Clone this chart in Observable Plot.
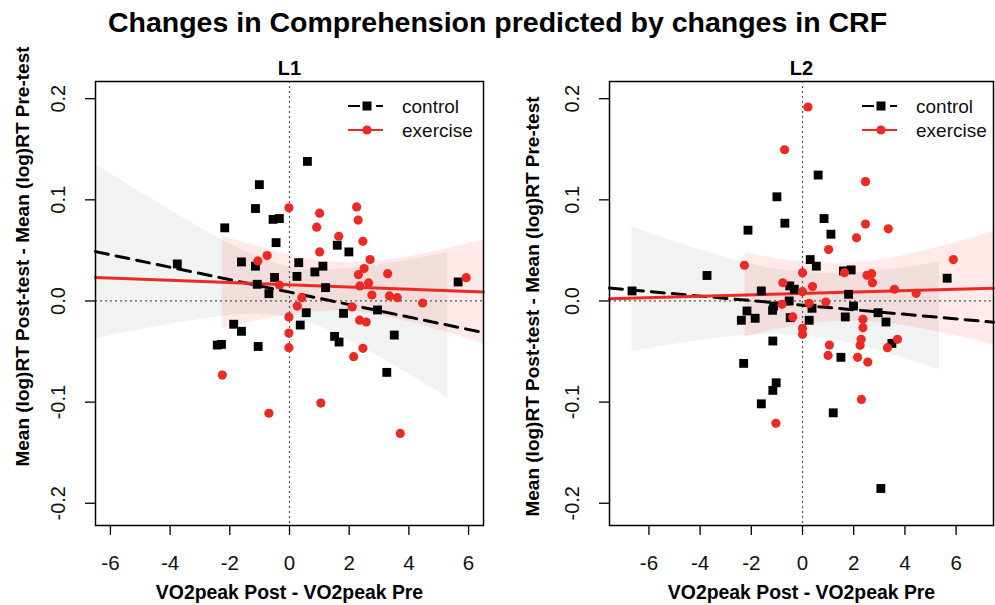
<!DOCTYPE html>
<html><head><meta charset="utf-8">
<script src="https://cdn.jsdelivr.net/npm/d3@7"></script>
<script src="https://cdn.jsdelivr.net/npm/@observablehq/plot@0.6"></script>
<style>
body{margin:0;background:#fff;font-family:"Liberation Sans",Arial,sans-serif;}
#wrap{width:995px;height:605px;position:relative;overflow:hidden;background:#fff}
#title{height:45px;line-height:44px;text-align:center;font-weight:bold;font-size:28.5px;color:#000;white-space:nowrap}
#row{display:flex}
</style></head><body>
<div id="wrap"><div id="title">Changes in Comprehension predicted by changes in CRF</div><div id="row"></div></div>
<script>
const chartTitle = "Changes in Comprehension predicted by changes in CRF";
const panelNames = ["L1", "L2"];
const seriesNames = ["control", "exercise"];
const xTitle = "VO2peak Post - VO2peak Pre";
const yTitle = "Mean (log)RT Post-test - Mean (log)RT Pre-test";
const xTicks = [-6, -4, -2, 0, 2, 4, 6];
const xTickLabels = ["-6", "-4", "-2", "0", "2", "4", "6"];
const yTicks = [-0.2, -0.1, 0, 0.1, 0.2];
const yTickLabels = ["-0.2", "-0.1", "0.0", "0.1", "0.2"];

// L1 data
const l1CtrlX = [-3.76,-2.17,-2.42,-2.28,-1.87,-1.61,-1.61,-1.14,-1.01,-1.14,-1.05,-1.08,-0.69,-0.50,-0.55,-0.34,-0.45,0.60,0.25,0.31,0.85,1.12,1.21,1.60,1.99,0.56,0.36,1.81,2.95,1.51,1.66,3.51,3.26,5.65];
const l1CtrlY = [0.0366,0.0723,-0.0436,-0.0429,-0.023,-0.030,0.0386,0.0914,0.115,0.0344,-0.045,0.0165,0.0072,0.0233,0.0807,0.0815,0.0577,0.138,0.0243,0.0379,0.0287,0.0344,0.0132,0.0551,0.0485,-0.0116,-0.0238,-0.0122,-0.0089,-0.035,-0.0406,-0.0337,-0.0706,0.0188];
const l1ExX = [-2.25,-1.06,-0.75,-0.69,-0.34,-0.02,-0.02,-0.02,-0.02,0.41,0.26,1.01,0.91,1.01,1.05,1.65,2.25,2.30,2.46,2.70,2.50,2.31,3.29,2.36,2.65,2.76,3.35,3.61,4.46,2.10,2.35,2.57,2.46,2.15,3.71,5.92];
const l1ExY = [-0.0733,0.0396,0.0449,-0.111,0.0158,0.0921,-0.0158,-0.0317,-0.0462,0.0033,-0.005,0.0868,0.073,0.0485,-0.101,0.064,0.093,0.080,0.059,0.041,0.032,0.026,0.027,0.0149,0.0178,0.0059,0.005,0.0033,-0.002,-0.0059,-0.019,-0.0208,-0.0468,-0.0551,-0.131,0.023];
// L1 fitted lines (ends) and confidence bands
const l1FitX = [-6.5, 6.5];
const l1CtrlFit = [0.0488, -0.0313];
const l1ExFit = [0.0232, 0.0089];
const l1CtrlBandX = [-6.5,-5,-4,-3,-2,-1,0,1,2,3,4,5.3];
const l1CtrlBandLo = [-0.0373,-0.0285,-0.0231,-0.0181,-0.0144,-0.0129,-0.0160,-0.0253,-0.0390,-0.0551,-0.0723,-0.0955];
const l1CtrlBandHi = [0.1349,0.1077,0.0899,0.0727,0.0566,0.0429,0.0336,0.0305,0.0320,0.0357,0.0407,0.0479];
const l1ExBandX = [-2.25,-1,0,1,1.8,3,4,5,6.5];
const l1ExBandLo = [-0.0275,-0.0191,-0.0137,-0.0103,-0.0100,-0.0140,-0.0205,-0.0287,-0.0426];
const l1ExBandHi = [0.0645,0.0533,0.0457,0.0401,0.0380,0.0394,0.0437,0.0497,0.0604];

// L2 data
const l2CtrlX = [-6.66,-3.73,-2.13,-2.39,-2.17,-1.85,-2.30,-1.61,-1.61,-1.17,-1.13,-1.16,-1.03,-1.16,-1.00,-0.69,-0.50,-0.52,-0.48,-0.32,0.37,0.26,0.30,0.54,0.61,0.84,1.11,1.20,1.50,1.60,1.90,1.67,1.80,1.99,2.95,3.26,3.49,3.06,5.65];
const l2CtrlY = [0.0099,0.0252,0.070,-0.0191,-0.0099,-0.0171,-0.0617,0.0099,-0.1017,-0.0092,-0.005,-0.0396,-0.0809,-0.0884,0.103,0.0769,0.0149,0.0,-0.0165,0.0116,-0.0072,-0.0191,0.0409,0.0344,0.1245,0.0815,0.066,-0.1106,-0.0557,0.0297,0.0307,-0.0158,0.0066,-0.005,-0.0116,-0.0208,-0.0419,-0.1854,0.0225];
const l2ExX = [-2.27,-0.70,0.21,0.0,-0.77,-0.80,-0.38,0.0,0.0,-1.04,0.39,0.0,0.26,0.91,1.02,1.05,1.00,2.11,2.46,2.46,3.35,1.64,2.52,2.70,2.73,3.59,4.44,5.89,2.36,2.36,2.29,2.25,3.71,3.32,2.15,2.55,2.30];
const l2ExY = [0.0353,0.1495,0.1918,0.028,0.018,-0.0033,-0.0158,-0.027,-0.033,-0.121,0.0142,0.0092,-0.0023,-0.001,0.0508,-0.0436,-0.0538,0.0624,0.118,0.076,0.0713,0.028,0.0254,0.027,0.0181,0.0116,0.0076,0.0409,-0.0181,-0.0264,-0.0379,-0.0439,-0.0379,-0.0462,-0.0557,-0.0604,-0.0973];
const l2FitX = [-7.54, 7.46];
const l2CtrlFit = [0.0128, -0.021];
const l2ExFit = [0.0023, 0.0126];
const l2CtrlBandX = [-6.66,-5,-4,-3,-2,-1,0,1,2,3,4,5.35];
const l2CtrlBandLo = [-0.0502,-0.0428,-0.0390,-0.0359,-0.0338,-0.0331,-0.0343,-0.0375,-0.0426,-0.0491,-0.0566,-0.0679];
const l2CtrlBandHi = [0.0735,0.0588,0.0506,0.0431,0.0366,0.0315,0.0283,0.0271,0.0278,0.0299,0.0330,0.0383];
const l2ExBandX = [-2.24,-1,0,1,1.5,2,3,4,5,6,7.46];
const l2ExBandLo = [-0.0356,-0.0281,-0.0235,-0.0207,-0.0201,-0.0200,-0.0214,-0.0246,-0.0291,-0.0345,-0.0433];
const l2ExBandHi = [0.0475,0.0417,0.0385,0.0371,0.0371,0.0378,0.0406,0.0452,0.0511,0.0577,0.0687];

const yDomain = [-0.222, 0.217];
const RED = "#ec2a24";
const FONT = "'Liberation Sans', Arial, sans-serif";
const zip = (xs, ys) => xs.map((x, i) => ({x, y: ys[i]}));
const band = (xs, lo, hi) => xs.map((x, i) => ({x, lo: lo[i], hi: hi[i]}));

function panel(cfg) {
  const {name, width, ml, mr, xDomain, cx, cy, ex, ey, fitX, fitC, fitE, bcx, bclo, bchi, bex, belo, behi, yTitleDx, yTitleDy} = cfg;
  const mt = 36, mb = 80, H = 560;
  const plot = Plot.plot({
    width, height: H, marginTop: mt, marginBottom: mb, marginLeft: ml, marginRight: mr,
    x: {domain: xDomain, axis: null},
    y: {domain: yDomain, axis: null},
    style: {fontFamily: FONT, background: "white", color: "black", overflow: "visible"},
    marks: [
      Plot.areaY(band(bcx, bclo, bchi), {x: "x", y1: "lo", y2: "hi", fill: "#7d8c8a", fillOpacity: 0.11, curve: "monotone-x"}),
      Plot.areaY(band(bex, belo, behi), {x: "x", y1: "lo", y2: "hi", fill: "#ff3b3b", fillOpacity: 0.11, curve: "monotone-x"}),
      Plot.ruleX([0], {stroke: "#555", strokeWidth: 1.2, strokeDasharray: "2,3"}),
      Plot.ruleY([0], {stroke: "#555", strokeWidth: 1.2, strokeDasharray: "2,3"}),
      Plot.line(zip(fitX, fitC), {x: "x", y: "y", stroke: "black", strokeWidth: 3, strokeDasharray: "13,8"}),
      Plot.line(zip(fitX, fitE), {x: "x", y: "y", stroke: RED, strokeWidth: 3}),
      Plot.dot(zip(cx, cy), {x: "x", y: "y", symbol: "square", r: 5, fill: "black", stroke: "none"}),
      Plot.dot(zip(ex, ey), {x: "x", y: "y", r: 4.6, fill: RED, stroke: "none"}),
      Plot.frame({stroke: "black", strokeWidth: 1.5}),
      Plot.axisX({ticks: xTicks, tickSize: 10, fill: "none", label: null, strokeWidth: 1.3}),
      Plot.axisY({ticks: yTicks, tickSize: 10, fill: "none", label: null, strokeWidth: 1.3}),
      Plot.text(xTicks, {x: d => d, text: (d, i) => xTickLabels[i], frameAnchor: "bottom", lineAnchor: "middle", textAnchor: "middle", dy: 38, fontSize: 20.5, fill: "#111"}),
      Plot.text(yTicks, {y: d => d, text: (d, i) => yTickLabels[i], frameAnchor: "left", lineAnchor: "middle", textAnchor: "middle", dx: -37, rotate: -90, fontSize: 20, fill: "#111"}),
      Plot.text([xTitle], {frameAnchor: "bottom", lineAnchor: "middle", textAnchor: "middle", dy: 67, fontSize: 19.4, fontWeight: "bold", fill: "black"}),
      Plot.text([yTitle], {frameAnchor: "left", lineAnchor: "middle", textAnchor: "middle", dx: yTitleDx, dy: yTitleDy, rotate: -90, fontSize: 19, fontWeight: "bold", fill: "black"}),
      Plot.text([name], {frameAnchor: "top", lineAnchor: "middle", textAnchor: "middle", dy: -13, fontSize: 20, fontWeight: "bold", fill: "black"})
    ]
  });
  // legend (top-right inside frame)
  const svg = d3.select(plot);
  const g = svg.append("g").attr("font-family", FONT).attr("font-size", 19).attr("text-anchor", "start");
  const lx = ml + 253, ly1 = mt + 25, ly2 = mt + 49;
  g.append("line").attr("x1", lx).attr("x2", lx + 35).attr("y1", ly1).attr("y2", ly1)
    .attr("stroke", "black").attr("stroke-width", 2.2).attr("stroke-dasharray", "12,16");
  g.append("rect").attr("x", lx + 19 - 4.5).attr("y", ly1 - 4.5).attr("width", 9).attr("height", 9).attr("fill", "black");
  g.append("line").attr("x1", lx).attr("x2", lx + 35).attr("y1", ly2).attr("y2", ly2)
    .attr("stroke", RED).attr("stroke-width", 2.2);
  g.append("circle").attr("cx", lx + 19).attr("cy", ly2).attr("r", 4.6).attr("fill", RED);
  g.append("text").attr("x", lx + 54).attr("y", ly1).attr("dy", "0.35em").attr("fill", "#111").text(seriesNames[0]);
  g.append("text").attr("x", lx + 54).attr("y", ly2).attr("dy", "0.35em").attr("fill", "#111").text(seriesNames[1]);
  return plot;
}

const row = document.getElementById("row");
row.append(panel({name: panelNames[0], width: 497, ml: 95, mr: 14, xDomain: [-6.5, 6.5],
  cx: l1CtrlX, cy: l1CtrlY, ex: l1ExX, ey: l1ExY, fitX: l1FitX, fitC: l1CtrlFit, fitE: l1ExFit,
  bcx: l1CtrlBandX, bclo: l1CtrlBandLo, bchi: l1CtrlBandHi, bex: l1ExBandX, belo: l1ExBandLo, behi: l1ExBandHi,
  yTitleDx: -73, yTitleDy: -47}));
row.append(panel({name: panelNames[1], width: 498, ml: 112, mr: 2, xDomain: [-7.54, 7.46],
  cx: l2CtrlX, cy: l2CtrlY, ex: l2ExX, ey: l2ExY, fitX: l2FitX, fitC: l2CtrlFit, fitE: l2ExFit,
  bcx: l2CtrlBandX, bclo: l2CtrlBandLo, bchi: l2CtrlBandHi, bex: l2ExBandX, belo: l2ExBandLo, behi: l2ExBandHi,
  yTitleDx: -77, yTitleDy: 3}));
</script>
</body></html>
